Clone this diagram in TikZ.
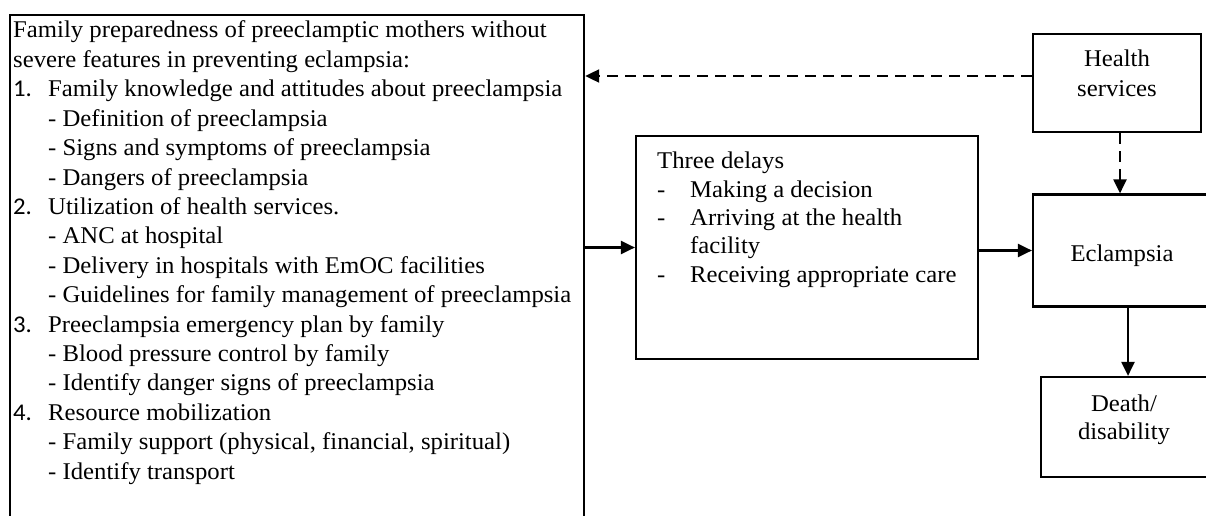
\documentclass[tikz,border=0pt]{standalone}
\usepackage{fontspec}
\setmainfont[FakeStretch=1.03]{Liberation Serif}
\newfontfamily\numfont[FakeStretch=1.03]{Carlito}
\usetikzlibrary{arrows.meta}
\begin{document}
\begin{tikzpicture}[x=1pt,y=-1pt,
  box/.style={draw,line width=2.2pt,rectangle,inner sep=0pt},
  txt/.style={anchor=base west,inner sep=0pt,font=\fontsize{24}{29}\selectfont},
  ctxt/.style={anchor=base,inner sep=0pt,font=\fontsize{24}{29}\selectfont},
  solidarrow/.style={line width=2.2pt,-{Triangle[length=14pt,width=13pt]}},
  dasharrow/.style={line width=2.2pt,dash pattern=on 11pt off 7pt,-{Triangle[length=14pt,width=13pt]}}]
\useasboundingbox (0,0) rectangle (1206,516);
% boxes
\node[box,minimum width=574pt,minimum height=540pt,anchor=north west] (L) at (9,14) {};
\node[box,minimum width=168pt,minimum height=98pt] (H) at (1117,83) {};
\node[box,minimum width=342pt,minimum height=223pt] (T) at (807,247.5) {};
\node[box,minimum width=179pt,minimum height=112pt] (E) at (1122.5,250.5) {};
\node[box,minimum width=167pt,minimum height=100pt] (D) at (1124.5,427) {};
% left box text
\def\ls{29.4}
\node[txt] (l1) at (13,38) {Family preparedness of preeclamptic mothers without};
\node[txt] (l2) at (13,38+\ls) {severe features in preventing eclampsia:};
\node[txt] (n1) at (13,38+2*\ls) {\numfont 1.};
\node[txt] (l3) at (48,38+2*\ls) {Family knowledge and attitudes about preeclampsia};
\node[txt] (l4) at (48,38+3*\ls) {- Definition of preeclampsia};
\node[txt] (l5) at (48,38+4*\ls) {- Signs and symptoms of preeclampsia};
\node[txt] (l6) at (48,38+5*\ls) {- Dangers of preeclampsia};
\node[txt] (n2) at (13,38+6*\ls) {\numfont 2.};
\node[txt] (l7) at (48,38+6*\ls) {Utilization of health services.};
\node[txt] (l8) at (48,38+7*\ls) {- ANC at hospital};
\node[txt] (l9) at (48,38+8*\ls) {- Delivery in hospitals with EmOC facilities};
\node[txt] (l10) at (48,38+9*\ls) {- Guidelines for family management of preeclampsia};
\node[txt] (n3) at (13,38+10*\ls) {\numfont 3.};
\node[txt] (l11) at (48,38+10*\ls) {Preeclampsia emergency plan by family};
\node[txt] (l12) at (48,38+11*\ls) {- Blood pressure control by family};
\node[txt] (l13) at (48,38+12*\ls) {- Identify danger signs of preeclampsia};
\node[txt] (n4) at (13,38+13*\ls) {\numfont 4.};
\node[txt] (l14) at (48,38+13*\ls) {Resource mobilization};
\node[txt] (l15) at (48,38+14*\ls) {- Family support (physical, financial, spiritual)};
\node[txt] (l16) at (48,38+15*\ls) {- Identify transport};
% three delays text
\node[txt] (t0) at (657,168) {Three delays};
\node[txt] (d1) at (657,197) {-};
\node[txt] (t1) at (690,197) {Making a decision};
\node[txt] (d2) at (657,225) {-};
\node[txt] (t2) at (690,225) {Arriving at the health};
\node[txt] (t3) at (690,253) {facility};
\node[txt] (d3) at (657,282) {-};
\node[txt] (t4) at (690,282) {Receiving appropriate care};
% right boxes text
\node[ctxt] (h1) at (1117,67) {Health};
\node[ctxt] (h2) at (1117,96) {services};
\node[ctxt] (e1) at (1122,261) {Eclampsia};
\node[ctxt] (x1) at (1124,411) {Death/};
\node[ctxt] (x2) at (1124,439) {disability};
% connectors
\coordinate (ydash) at (0,76);
\coordinate (xv) at (1120,0);
\coordinate (xd) at (1128,0);
\draw[dasharrow] (H.west |- ydash) -- (L.east |- ydash);
\draw[dasharrow] (H.south -| xv) -- (E.north -| xv);
\draw[solidarrow] (L.east |- T.west) -- (T.west);
\draw[solidarrow] (T.east |- E.west) -- (E.west);
\draw[solidarrow] (E.south -| xd) -- (D.north -| xd);
\end{tikzpicture}
\end{document}
